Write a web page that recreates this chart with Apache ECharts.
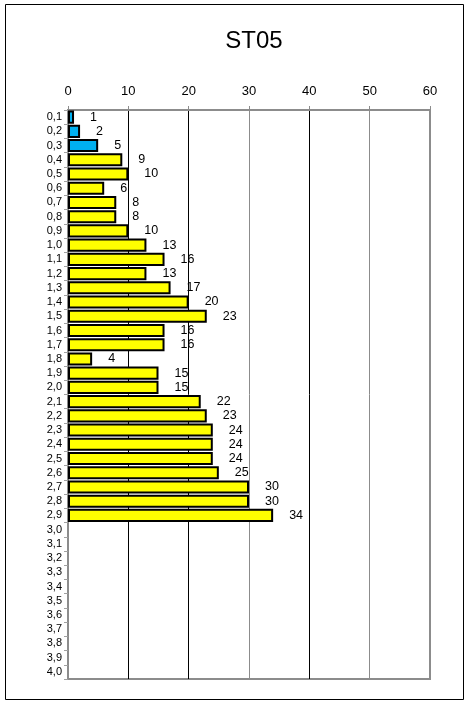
<!DOCTYPE html>
<html><head><meta charset="utf-8">
<script src="https://cdn.jsdelivr.net/npm/echarts@6/dist/echarts.min.js"></script>
<style>html,body{margin:0;padding:0;background:#fff}#c{width:469px;height:704px}</style>
</head><body><div id="c"></div>
<script>
var categories = ['0,1','0,2','0,3','0,4','0,5','0,6','0,7','0,8','0,9','1,0','1,1','1,2','1,3','1,4','1,5','1,6','1,7','1,8','1,9','2,0','2,1','2,2','2,3','2,4','2,5','2,6','2,7','2,8','2,9','3,0','3,1','3,2','3,3','3,4','3,5','3,6','3,7','3,8','3,9','4,0'];
var values = [1,2,5,9,10,6,8,8,10,13,16,13,17,20,23,16,16,4,15,15,22,23,24,24,24,25,30,30,34,null,null,null,null,null,null,null,null,null,null,null];
var blueCount = 3;
var xTicks = [0,10,20,30,40,50,60];
var title = 'ST05';

var chart = echarts.init(document.getElementById('c'), null, {renderer:'canvas'});
var data = values.map(function(v,i){
  return {value:v, itemStyle:{color: i < blueCount ? '#00B0F0' : '#FFFF00'}};
});
chart.setOption({
  animation:false,
  backgroundColor:'#fff',
  graphic:[{type:'rect',shape:{x:5.5,y:4.5,width:458,height:695},style:{fill:'none',stroke:'#000',lineWidth:1},silent:true}],
  title:{text:title,left:249,textAlign:'center',top:24,textStyle:{fontFamily:'Liberation Sans, Arial',fontSize:24,fontWeight:'normal',color:'#000'}},
  grid:{left:68,right:39,top:110,bottom:25,show:true,borderColor:'#8c8c8c',borderWidth:2,backgroundColor:'transparent'},
  xAxis:{type:'value',position:'top',min:xTicks[0],max:xTicks[xTicks.length-1],interval:10,
    axisLine:{show:true,lineStyle:{color:'#8c8c8c',width:2}},
    axisTick:{show:true,length:4,lineStyle:{color:'#8c8c8c',width:1}},
    axisLabel:{fontFamily:'Liberation Sans, Arial',fontSize:13,color:'#000',margin:12},
    splitLine:{show:true,lineStyle:{color:['#8c8c8c','#000','#000','#8c8c8c','#000','#8c8c8c','#8c8c8c'],width:1}}
  },
  yAxis:{type:'category',data:categories,inverse:true,
    axisLine:{show:true,lineStyle:{color:'#8c8c8c',width:2}},
    axisTick:{show:true,length:4,lineStyle:{color:'#a0a0a0'}},
    axisLabel:{fontFamily:'Liberation Sans, Arial',fontSize:11,color:'#000',margin:6,interval:0},
    splitLine:{show:false}
  },
  series:[{type:'bar',data:data,barCategoryGap:'8%',
    itemStyle:{borderColor:'#000',borderWidth:2},
    label:{show:true,position:'right',distance:16,fontFamily:'Liberation Sans, Arial',fontSize:12.5,color:'#000'}
  }]
});
</script></body></html>
